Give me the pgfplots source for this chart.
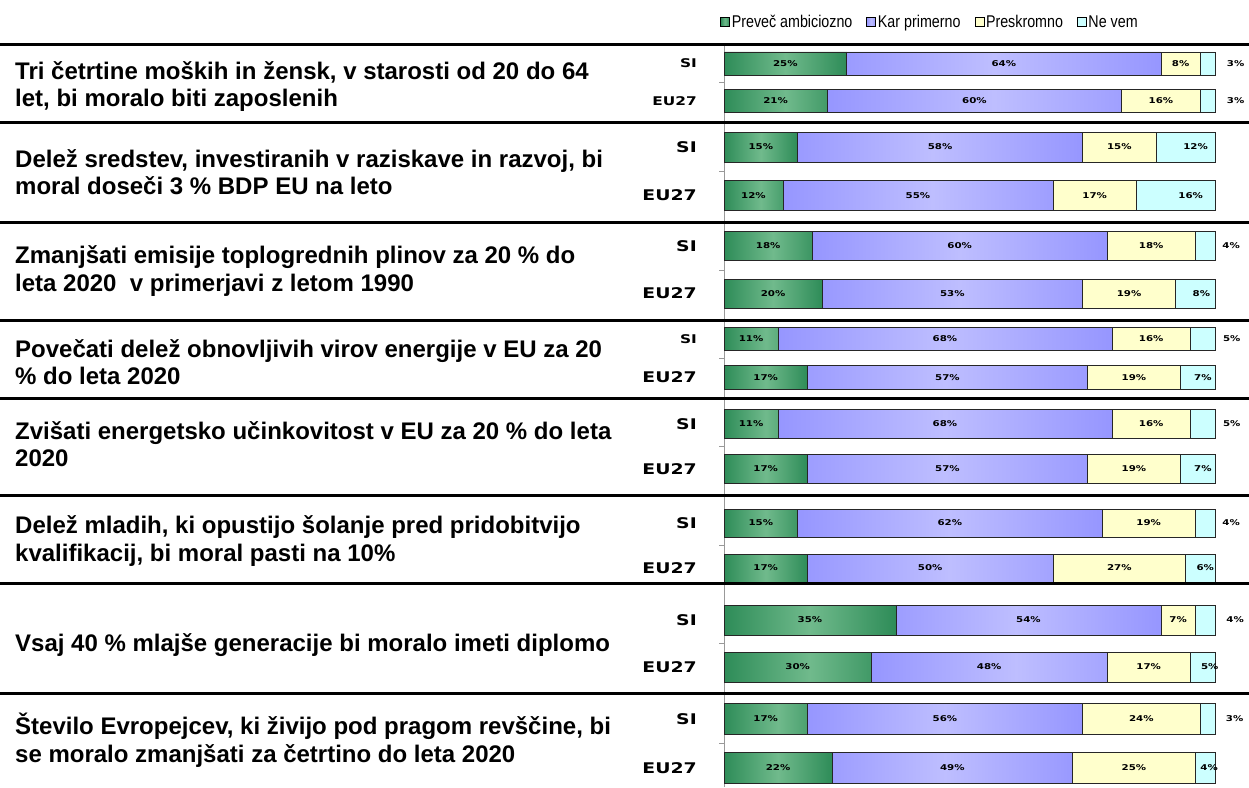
\documentclass[border=0pt]{standalone}
\usepackage{fontspec}
\setmainfont{Liberation Sans}
\newfontfamily\narrow[FakeStretch=0.84]{Liberation Sans}
\newfontfamily\wide[FakeStretch=1.28]{DejaVu Sans}
\usepackage{pgfplots}
\usepackage{pgfplotstable}
\pgfplotsset{compat=1.18}

\definecolor{gdark}{RGB}{46,140,88}
\definecolor{glight}{RGB}{112,186,140}
\definecolor{pdark}{RGB}{150,150,255}
\definecolor{plight}{RGB}{190,190,255}
\definecolor{yel}{RGB}{255,255,204}
\definecolor{cya}{RGB}{204,255,255}

\def\parsemeta#1:#2\relax{\def\segval{#1}\def\dxval{#2}}

% pos = vertical position (px from top); g p s n = shares; nl = last share : label shift
\pgfplotstableread{
pos g p s n nl
63.3 25 64 8 3 3:28
101 21 60 16 3 3:28
}\tA
\pgfplotstableread{
pos g p s n nl
147 15 58 15 12 12:10
195.5 12 55 17 16 16:15
}\tB
\pgfplotstableread{
pos g p s n nl
246 18 60 18 4 4:26
293.5 20 53 19 8 8:6
}\tC
\pgfplotstableread{
pos g p s n nl
339 11 68 16 5 5:29
377.5 17 57 19 7 7:5
}\tD
\pgfplotstableread{
pos g p s n nl
424 11 68 16 5 5:29
469 17 57 19 7 7:5
}\tE
\pgfplotstableread{
pos g p s n nl
523 15 62 19 4 4:26
568 17 50 27 6 6:5
}\tF
\pgfplotstableread{
pos g p s n nl
620 35 54 7 4 4:30
667 30 48 17 5 5:7
}\tG
\pgfplotstableread{
pos g p s n nl
718.7 17 56 24 3 3:27
768 22 49 25 4 4:4
}\tH

\pgfplotsset{
  grp/.style={
    xbar stacked, x=4.91pt, y=1pt, y dir=reverse,
    xmin=0, xmax=100, enlargelimits=false, clip=false,
    anchor=north west,
    hide x axis, axis y line*=left,
    y axis line style={draw=gray!80, line width=0.8pt},
    major tick length=0pt,
    yticklabel style={font=\wide\bfseries, inner sep=0pt, xshift=-27pt},
    extra y tick labels={},
    extra y tick style={major tick length=5pt, tick align=outside, tick style={draw=gray!80, line width=0.8pt}},
    every axis plot/.append style={draw=black!85, line width=0.6pt},
    legend image code/.code={\draw[##1, draw=black, line width=0.5pt] (0pt,-4.5pt) rectangle (9pt,4.5pt);},
  },
  lbl/.style={
    point meta=explicit symbolic,
    nodes near coords={\segval\%},
    nodes near coords align=center,
    every node near coord/.append style={font=\wide\bfseries\fontsize{8}{10}\selectfont, text=black, inner sep=0pt,
      /utils/exec={#1},
      xshift={\dxval*1pt}},
  },
  sg/.style={left color=gdark, right color=gdark, middle color=glight, lbl={\edef\segval{\pgfplotspointmeta}\def\dxval{0}}},
  sp/.style={left color=pdark, right color=pdark, middle color=plight, lbl={\edef\segval{\pgfplotspointmeta}\def\dxval{0}}},
  ss/.style={fill=yel, lbl={\edef\segval{\pgfplotspointmeta}\def\dxval{0}}},
  sn/.style={fill=cya, lbl={\expandafter\parsemeta\pgfplotspointmeta\relax}},
}

\newcommand{\grp}[8]{%
  % #1 table, #2 ymin, #3 ymax, #4 bar width, #5 ytick positions, #6 extra ticks, #7 SI size, #8 EU27 size
  \begin{axis}[grp, at={(0pt,-#2pt)}, ymin=#2, ymax=#3, bar width=#4,
      ytick={#5}, yticklabels={{\fontsize{#7}{15}\selectfont SI},{\fontsize{#8}{15}\selectfont EU27}}, extra y ticks={#6}]
    \addplot[sg] table[x=g, y=pos, meta=g] {#1};
    \addplot[sp] table[x=p, y=pos, meta=p] {#1};
    \addplot[ss] table[x=s, y=pos, meta=s] {#1};
    \addplot[sn] table[x=n, y=pos, meta=nl] {#1};
  \end{axis}}

\begin{document}
\begin{tikzpicture}
  % group 1 carries the legend
  \begin{axis}[grp, at={(0pt,-44pt)}, ymin=44, ymax=122, bar width=23,
      ytick={63.3,101}, yticklabels={{\fontsize{12}{15}\selectfont SI},{\fontsize{12}{15}\selectfont EU27}}, extra y ticks={82,122},
      legend columns=4,
      legend style={at={(-0.014,1.282)}, anchor=west, draw=none, fill=none,
        font=\narrow\fontsize{17}{19}\selectfont,
        /tikz/every even column/.append style={column sep=12pt}},
      legend cell align=left]
    \addplot[sg] table[x=g, y=pos, meta=g] {\tA};
    \addplot[sp] table[x=p, y=pos, meta=p] {\tA};
    \addplot[ss] table[x=s, y=pos, meta=s] {\tA};
    \addplot[sn] table[x=n, y=pos, meta=nl] {\tA};
    \legend{Preveč ambiciozno, Kar primerno, Preskromno, Ne vem}
  \end{axis}
  \grp{\tB}{122}{222}{30}{147,195.5}{171,222}{14.7}{14.7}
  \grp{\tC}{222}{320}{29}{246,293.5}{270,320}{14.7}{14.7}
  \grp{\tD}{320}{398}{23.5}{339,377.5}{358,398}{12}{14.7}
  \grp{\tE}{398}{495}{29}{424,469}{446,495}{14.7}{14.7}
  \grp{\tF}{495}{583}{28}{523,568}{545,583}{14.7}{14.7}
  \grp{\tG}{583}{693}{30}{620,667}{643,693}{14.7}{14.7}
  \grp{\tH}{693}{787}{31}{718.7,768}{743}{14.7}{14.7}

  % separator lines
  \foreach \yy in {44,122,222,320,398,495,583,693}
    \draw[line width=3pt] (-724pt,-\yy pt) -- (525pt,-\yy pt);

  % statements
  \begin{scope}[every node/.style={anchor=west, align=left, inner sep=0pt,
      font=\bfseries\fontsize{24}{27.6}\selectfont}]
    \node at (-709pt,-86.5pt) {Tri četrtine moških in žensk, v starosti od 20 do 64\\let, bi moralo biti zaposlenih};
    \node at (-709pt,-172pt) {Delež sredstev, investiranih v raziskave in razvoj, bi\\moral doseči 3 \% BDP EU na leto};
    \node at (-709pt,-271pt) {Zmanjšati emisije toplogrednih plinov za 20 \% do\\leta 2020~ v primerjavi z letom 1990};
    \node at (-709pt,-362pt) {Povečati delež obnovljivih virov energije v EU za 20\\\% do leta 2020};
    \node at (-709pt,-444pt) {Zvišati energetsko učinkovitost v EU za 20 \% do leta\\2020};
    \node at (-709pt,-541pt) {Delež mladih, ki opustijo šolanje pred pridobitvijo\\kvalifikacij, bi moral pasti na 10\%};
    \node at (-709pt,-645pt) {Vsaj 40 \% mlajše generacije bi moralo imeti diplomo};
    \node at (-709pt,-740pt) {Število Evropejcev, ki živijo pod pragom revščine, bi\\se moralo zmanjšati za četrtino do leta 2020};
  \end{scope}

  \pgfresetboundingbox
  \path[use as bounding box] (-724pt,-787pt) rectangle (525pt,0pt);
\end{tikzpicture}
\end{document}
